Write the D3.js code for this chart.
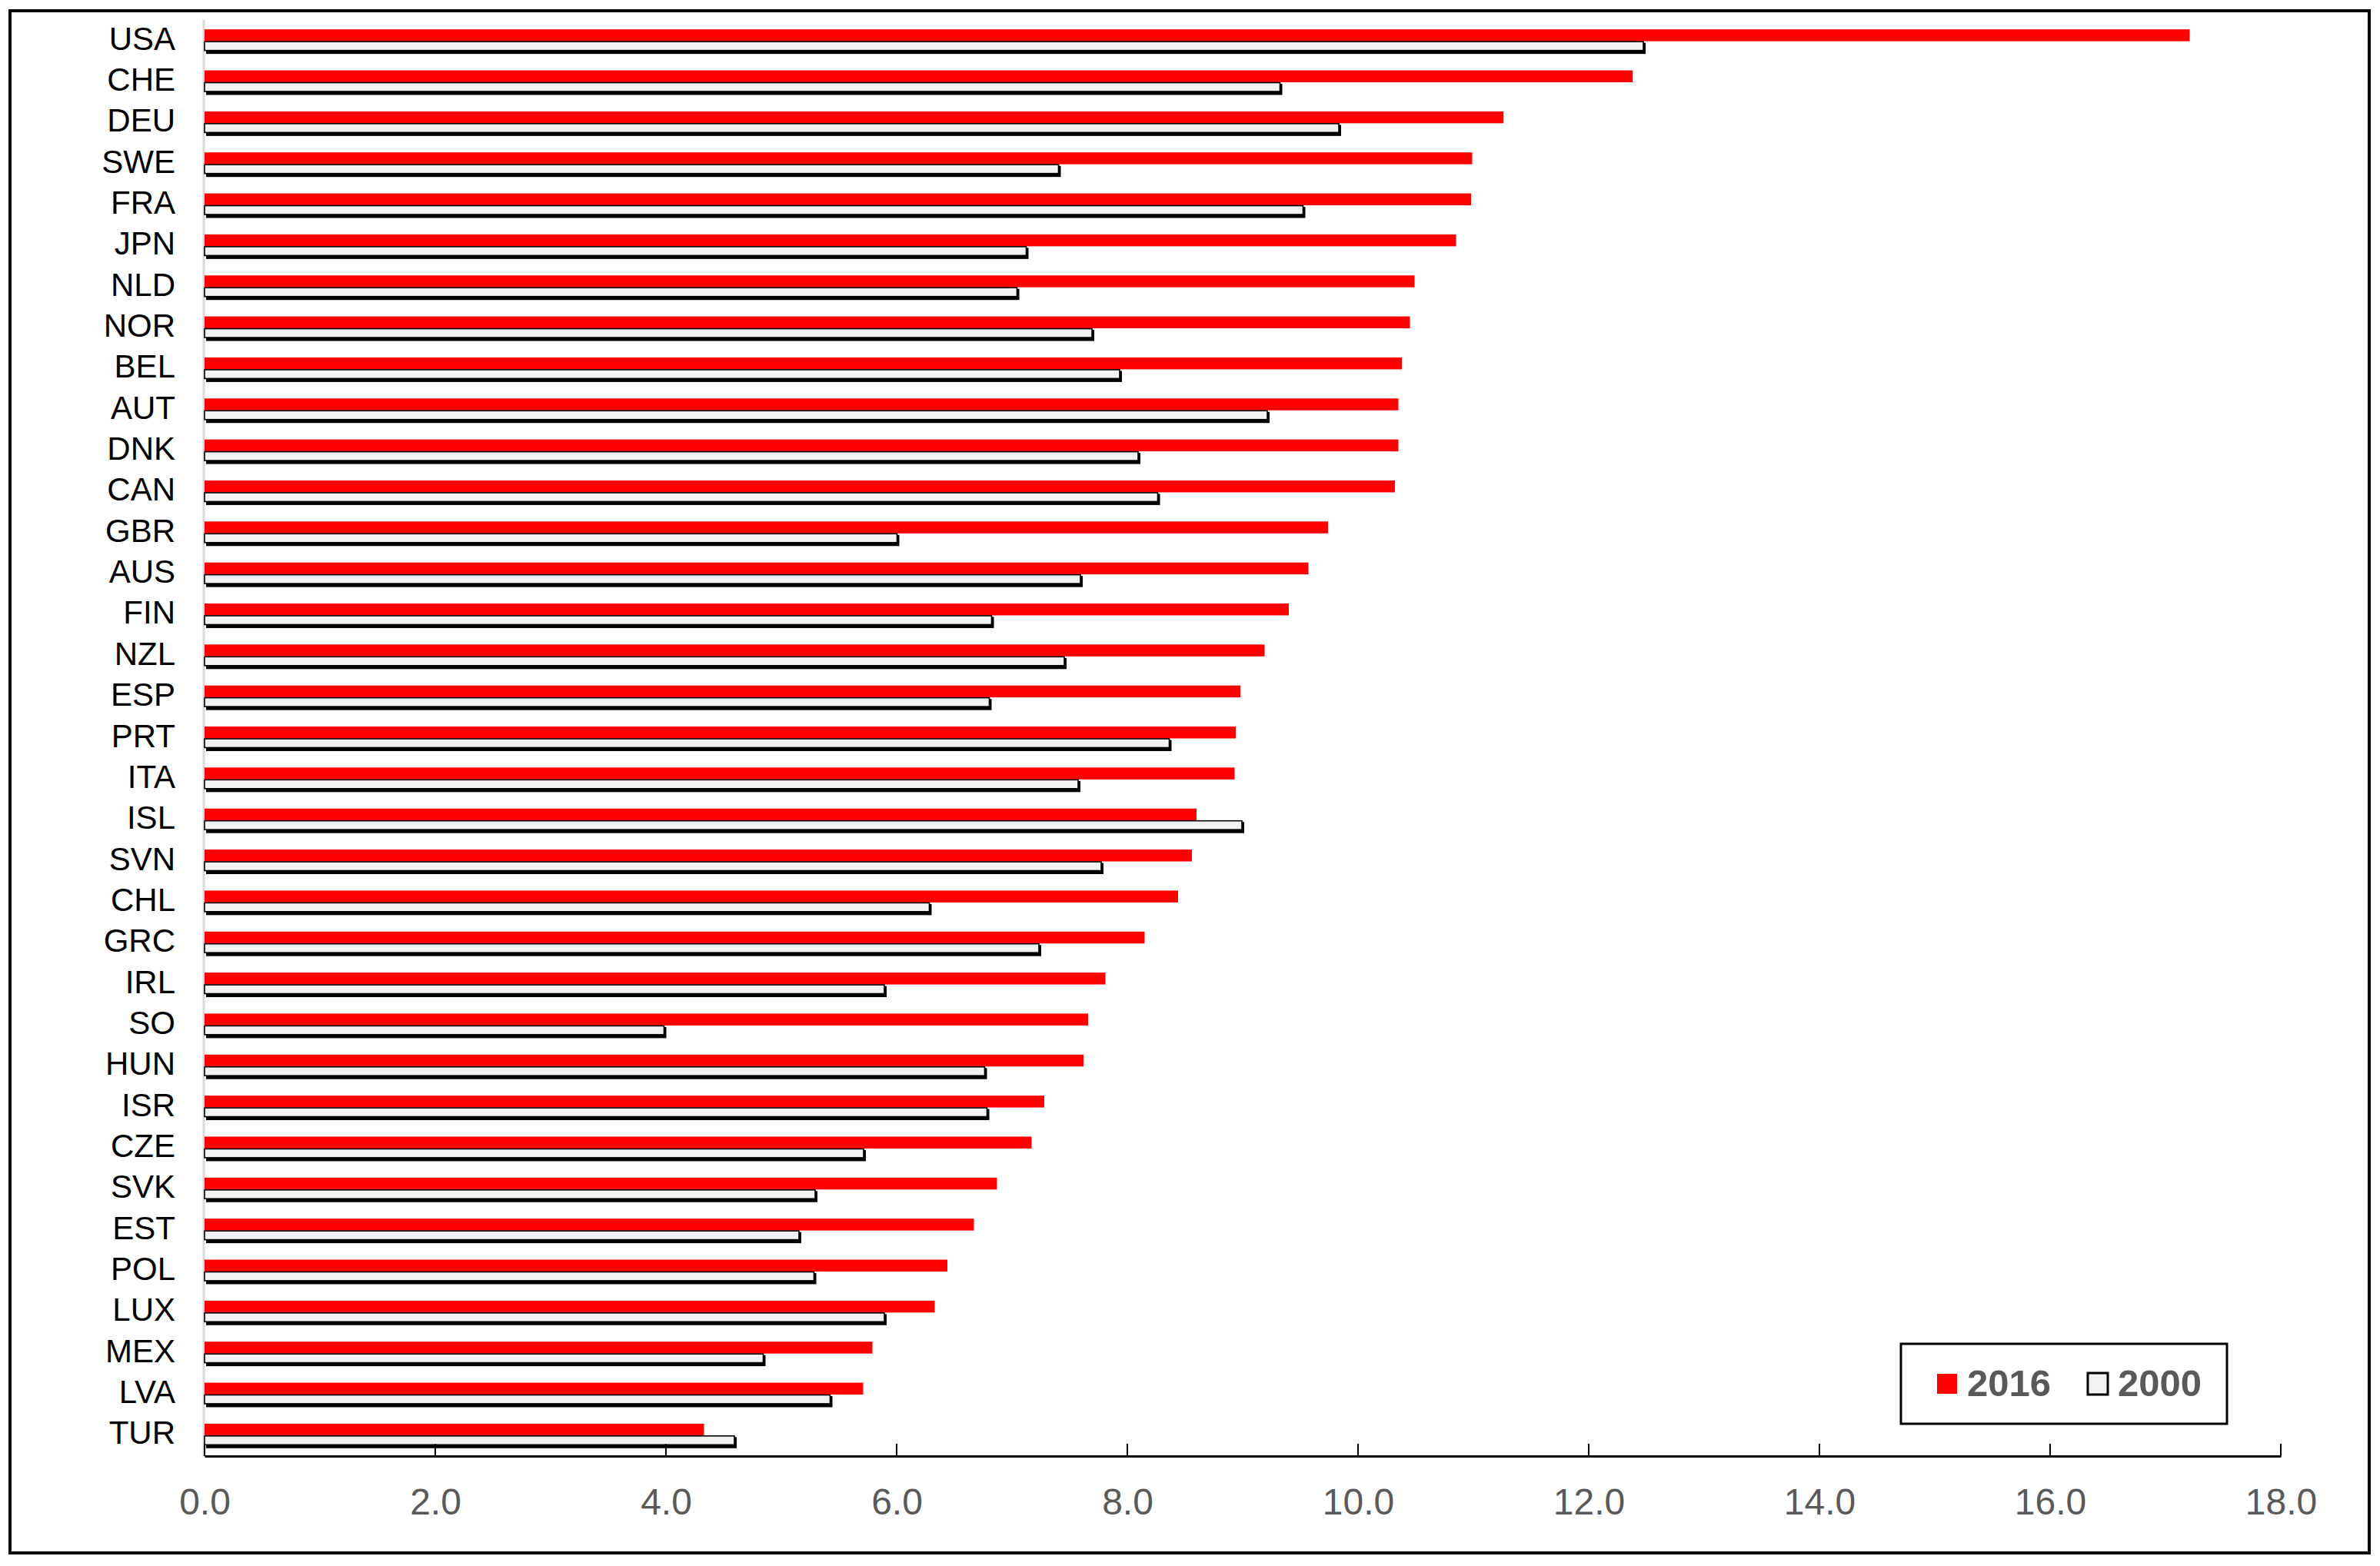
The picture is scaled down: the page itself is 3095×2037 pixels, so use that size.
<!DOCTYPE html>
<html>
<head>
<meta charset="utf-8">
<script src="https://cdn.jsdelivr.net/npm/d3@7"></script>
<style>
  html, body { margin: 0; padding: 0; background: #ffffff; }
  svg { display: block; }
</style>
</head>
<body>
<script>
const categories = ["USA","CHE","DEU","SWE","FRA","JPN","NLD","NOR","BEL","AUT","DNK","CAN","GBR","AUS","FIN","NZL","ESP","PRT","ITA","ISL","SVN","CHL","GRC","IRL","SO","HUN","ISR","CZE","SVK","EST","POL","LUX","MEX","LVA","TUR"];
const values2016 = [17.21,12.38,11.26,10.99,10.98,10.85,10.49,10.45,10.38,10.35,10.35,10.32,9.74,9.57,9.40,9.19,8.98,8.94,8.93,8.60,8.56,8.44,8.15,7.81,7.66,7.62,7.28,7.17,6.87,6.67,6.44,6.33,5.79,5.71,4.33];
const values2000 = [12.48,9.33,9.84,7.41,9.53,7.13,7.05,7.70,7.94,9.22,8.10,8.27,6.01,7.60,6.83,7.46,6.81,8.37,7.58,9.00,7.78,6.29,7.24,5.90,3.99,6.77,6.79,5.72,5.30,5.16,5.29,5.90,4.85,5.43,4.60];
const seriesNames = ["2016","2000"];
const xTicks = [0,2,4,6,8,10,12,14,16,18];

const W = 3095, H = 2037;
const svg = d3.select("body").append("svg").attr("width", W).attr("height", H);

// outer frame
svg.append("rect").attr("x", 13).attr("y", 14).attr("width", 3068).attr("height", 2006)
  .attr("fill", "#ffffff").attr("stroke", "#000").attr("stroke-width", 4);

const x = d3.scaleLinear().domain([0, 18]).range([266, 2966]);
const y = d3.scaleBand().domain(categories).range([27, 1894]).paddingInner(0.42).paddingOuter(0.21);
const ys = d3.scaleBand().domain(seriesNames).range([0, y.bandwidth()]);

const rows = categories.map((c, i) => ({ c, v16: values2016[i], v00: values2000[i] }));

// y axis line (light grey)
svg.append("line").attr("x1", 265).attr("x2", 265).attr("y1", 26).attr("y2", 1894)
  .attr("stroke", "#d9d9d9").attr("stroke-width", 3);

const g = svg.append("g");
// 2016 bars
g.selectAll("rect.b16").data(rows).join("rect").attr("class", "b16")
  .attr("x", x(0)).attr("y", d => y(d.c) + ys("2016"))
  .attr("width", d => x(d.v16) - x(0)).attr("height", ys.bandwidth())
  .attr("fill", "#ff0000");
// 2000 bars shadow
g.selectAll("rect.s00").data(rows).join("rect").attr("class", "s00")
  .attr("x", x(0) + 2).attr("y", d => y(d.c) + ys("2000") + 2)
  .attr("width", d => x(d.v00) - x(0)).attr("height", ys.bandwidth() - 1)
  .attr("fill", "#000");
// 2000 bars
g.selectAll("rect.b00").data(rows).join("rect").attr("class", "b00")
  .attr("x", x(0)).attr("y", d => y(d.c) + ys("2000") + 0.5)
  .attr("width", d => x(d.v00) - x(0) - 1).attr("height", ys.bandwidth() - 4)
  .attr("fill", "#f2f2f2").attr("stroke", "#000").attr("stroke-width", 1.6);

// category labels
svg.append("g").selectAll("text").data(categories).join("text")
  .attr("x", 228).attr("y", d => y(d) + y.bandwidth() / 2 + 11)
  .attr("text-anchor", "end")
  .attr("font-family", "'Liberation Sans', Arial, sans-serif")
  .attr("font-size", 42).attr("fill", "#000")
  .text(d => d);

// x axis
const xAxis = d3.axisBottom(x).tickValues(xTicks).tickSize(0).tickFormat(d3.format(".1f"));
const ax = svg.append("g").attr("transform", "translate(0,1894)").call(xAxis);
ax.select(".domain").attr("stroke", "#000").attr("stroke-width", 3);
ax.selectAll(".tick text").attr("font-family", "'Liberation Sans', Arial, sans-serif")
  .attr("font-size", 48).attr("fill", "#595959").attr("dy", 0).attr("y", 76);
// ticks upward
svg.append("g").selectAll("line").data(xTicks).join("line")
  .attr("x1", d => x(d)).attr("x2", d => x(d)).attr("y1", 1878).attr("y2", 1894)
  .attr("stroke", "#000").attr("stroke-width", 2);

// legend
const lg = svg.append("g");
lg.append("rect").attr("x", 2472).attr("y", 1748).attr("width", 424).attr("height", 104)
  .attr("fill", "#fff").attr("stroke", "#000").attr("stroke-width", 3);
lg.append("rect").attr("x", 2519).attr("y", 1787).attr("width", 26).attr("height", 26).attr("fill", "#ff0000");
lg.append("text").attr("x", 2558).attr("y", 1816)
  .attr("font-family", "'Liberation Sans', Arial, sans-serif").attr("font-weight", "bold")
  .attr("font-size", 49).attr("fill", "#595959").text(seriesNames[0]);
lg.append("rect").attr("x", 2715).attr("y", 1786).attr("width", 26).attr("height", 28)
  .attr("fill", "#f2f2f2").attr("stroke", "#000").attr("stroke-width", 3);
lg.append("text").attr("x", 2754).attr("y", 1816)
  .attr("font-family", "'Liberation Sans', Arial, sans-serif").attr("font-weight", "bold")
  .attr("font-size", 49).attr("fill", "#595959").text(seriesNames[1]);
</script>
</body>
</html>
